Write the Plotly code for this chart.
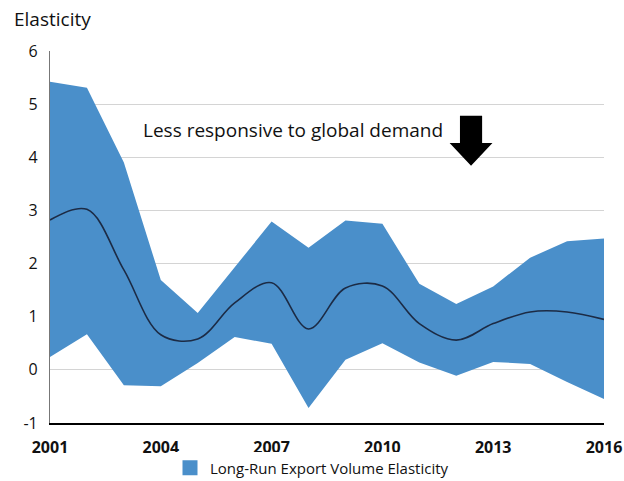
import plotly.graph_objects as go

# Data
years = list(range(2001, 2017))
upper = [5.42, 5.31, 3.90, 1.69, 1.07, 1.92, 2.79, 2.30, 2.81, 2.75, 1.62, 1.24, 1.57, 2.11, 2.42, 2.47]
lower = [0.24, 0.67, -0.29, -0.31, 0.13, 0.62, 0.49, -0.72, 0.19, 0.50, 0.14, -0.11, 0.15, 0.11, -0.23, -0.55]
central = [2.82, 3.02, 1.88, 0.66, 0.58, 1.26, 1.64, 0.77, 1.54, 1.58, 0.87, 0.56, 0.87, 1.09, 1.09, 0.95]

tick_years = [2001, 2004, 2007, 2010, 2013, 2016]
y_ticks = [-1, 0, 1, 2, 3, 4, 5, 6]

band_color = "#4a8fca"
line_color = "#1c2b45"
font_family = "Open Sans, Noto Sans, sans-serif"

# Lower edge of the band (invisible), then upper edge filled down to it
lower_trace = go.Scatter(
    x=years, y=lower, mode="lines",
    line=dict(width=0, color=band_color),
    showlegend=False, hoverinfo="skip",
)
upper_trace = go.Scatter(
    x=years, y=upper, mode="lines",
    line=dict(width=0, color=band_color),
    fill="tonexty", fillcolor=band_color,
    name="Long-Run Export Volume Elasticity", showlegend=False,
)
central_trace = go.Scatter(
    x=years, y=central, mode="lines",
    line=dict(width=1.6, color=line_color, shape="spline", smoothing=1.0),
    showlegend=False,
)
# legend entry only: square swatch like the original
legend_trace = go.Scatter(
    x=[None], y=[None], mode="markers",
    marker=dict(symbol="square", size=15, color=band_color),
    name="Long-Run Export Volume Elasticity",
)

# Down arrow next to the label
ax = 2012.4
arrow_path = (
    f"M {ax - 0.30},4.78 L {ax + 0.30},4.78 L {ax + 0.30},4.27 "
    f"L {ax + 0.58},4.27 L {ax},3.84 L {ax - 0.58},4.27 L {ax - 0.30},4.27 Z"
)

fig = go.Figure(data=[lower_trace, upper_trace, central_trace, legend_trace])
fig.update_layout(
    width=624, height=481,
    margin=dict(l=50, r=20, t=51, b=58, autoexpand=False),
    plot_bgcolor="white", paper_bgcolor="white",
    font=dict(family=font_family, color="#111111", size=16),
    title=dict(
        text="Elasticity", x=14 / 624, xanchor="left",
        y=1 - 19 / 481, yanchor="middle", xref="container", yref="container",
        font=dict(size=19, family=font_family, color="#111111"),
    ),
    xaxis=dict(
        range=[2001, 2016], tickvals=tick_years, ticktext=[str(y) for y in tick_years],
        showgrid=False, zeroline=False, showline=True, linecolor="black", linewidth=1.5,
        tickfont=dict(size=16, family=font_family, weight="bold"), ticks="",
        ticklabelstandoff=9, automargin=False,
    ),
    yaxis=dict(
        range=[-1, 6], tickvals=y_ticks, ticktext=[str(v) for v in y_ticks],
        showgrid=True, gridcolor="#d4d4d4", gridwidth=1.3,
        zeroline=False, showline=True, linecolor="#777777", linewidth=1.2,
        tickfont=dict(size=16, family=font_family), ticks="", ticklabelstandoff=8,
        automargin=False,
    ),
    legend=dict(
        orientation="h", x=0.5, xanchor="center", xref="container",
        y=1 - 468 / 481, yanchor="middle", yref="container",
        font=dict(size=15, family=font_family),
    ),
    annotations=[
        dict(
            x=2007.58, y=4.52, xref="x", yref="y", text="Less responsive to global demand",
            showarrow=False, font=dict(size=19, family=font_family, color="#111111"),
        )
    ],
    shapes=[
        dict(type="path", path=arrow_path, xref="x", yref="y",
             fillcolor="black", line=dict(width=0))
    ],
)

# drop the browser's default body margin so the figure fills the window
fig.write_html(
    "out.html",
    config={"displayModeBar": False},
    post_script="document.body.style.margin='0';document.body.style.overflow='hidden';",
)
